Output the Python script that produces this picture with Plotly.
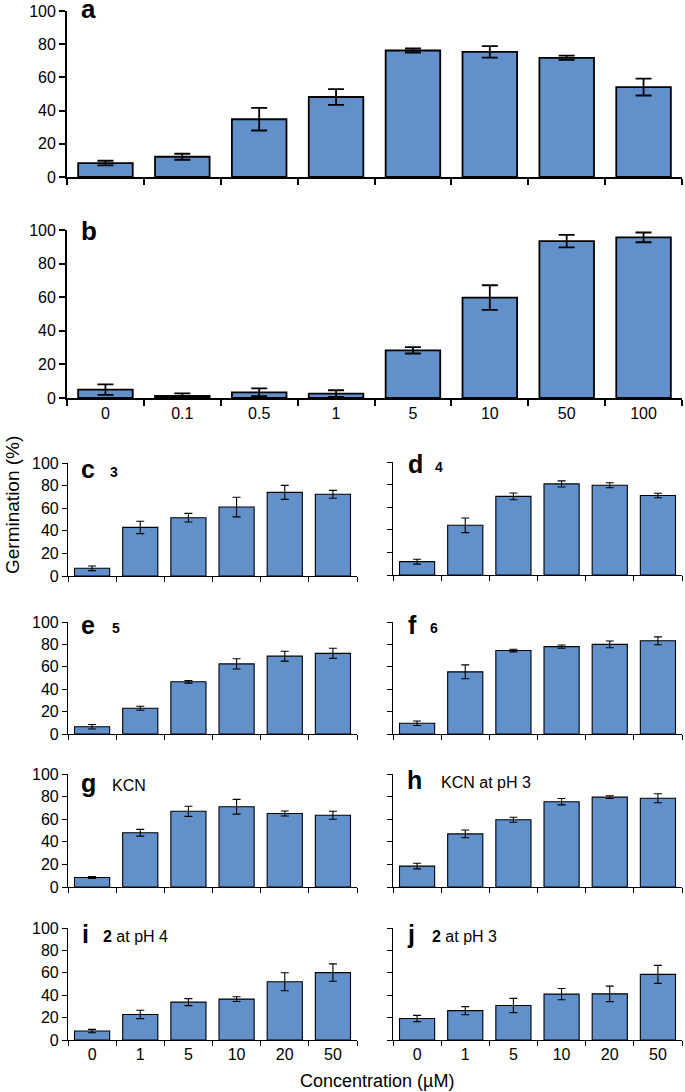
import plotly.graph_objects as go

# concentraciones (uM)
conc_ab = ['0', '0.1', '0.5', '1', '5', '10', '50', '100']
conc = ['0', '1', '5', '10', '20', '50']

# germinacion (%) y error
a_val = [8.4, 12.2, 34.8, 48.2, 76.2, 75.4, 71.8, 54.2]
a_err = [1.4, 1.8, 6.8, 4.7, 1.2, 3.5, 1.3, 5.1]
b_val = [5.0, 1.2, 3.4, 2.6, 28.4, 59.8, 93.4, 95.6]
b_err = [3.1, 1.5, 2.3, 2.0, 1.9, 7.3, 3.7, 2.9]
c_val = [6.8, 43.0, 51.6, 61.0, 74.0, 72.3]
c_err = [2.0, 5.5, 3.8, 8.7, 6.2, 3.5]
d_val = [11.8, 44.0, 69.6, 80.6, 79.4, 70.4]
d_err = [2.2, 6.5, 3.0, 2.7, 2.2, 2.0]
e_val = [6.5, 23.0, 46.6, 62.6, 69.5, 72.0]
e_err = [2.0, 1.8, 1.2, 4.6, 4.4, 4.5]
f_val = [9.6, 55.5, 74.5, 78.0, 80.0, 83.2]
f_err = [2.0, 6.2, 1.2, 1.5, 3.0, 3.5]
g_val = [8.4, 48.0, 67.0, 71.0, 65.0, 63.5]
g_err = [0.8, 3.0, 4.5, 6.5, 2.2, 3.5]
h_val = [18.5, 47.0, 59.5, 75.5, 79.5, 78.5]
h_err = [2.5, 3.4, 2.2, 2.8, 1.2, 4.0]
i_val = [8.0, 22.8, 33.8, 36.5, 52.0, 60.2]
i_err = [1.5, 3.7, 3.1, 2.1, 8.0, 7.8]
j_val = [19.2, 26.2, 30.8, 41.0, 41.2, 58.6]
j_err = [2.8, 3.6, 6.4, 5.0, 6.9, 8.0]

W, H = 685, 1092
BLUE = '#6190CB'
FONT = 'Liberation Sans, Arial, sans-serif'


def fx(p):
    return p / W


def fy(p):
    return 1 - p / H


# (letra, cats, valores, errores, x px, y px, grande, etiquetas y, etiquetas x, texto, x letra, linea base)
paneles = [
    ('a', conc_ab, a_val, a_err, (67, 682), (11, 177), True, True, False, '', 82, 18),
    ('b', conc_ab, b_val, b_err, (67, 682), (230, 398), True, True, True, '', 82, 240),
    ('c', conc, c_val, c_err, (68, 357), (463, 576), False, True, False, '<b>3</b>', 82, 477),
    ('d', conc, d_val, d_err, (393, 682), (462, 575), False, False, False, '<b>4</b>', 409, 472),
    ('e', conc, e_val, e_err, (68, 357), (622, 734), False, True, False, '<b>5</b>', 82, 633),
    ('f', conc, f_val, f_err, (393, 682), (622, 734), False, False, False, '<b>6</b>', 409, 633),
    ('g', conc, g_val, g_err, (68, 357), (774, 887), False, True, False, 'KCN', 82, 791),
    ('h', conc, h_val, h_err, (393, 682), (774, 887), False, False, False, 'KCN at pH 3', 408, 788),
    ('i', conc, i_val, i_err, (68, 357), (928, 1040), False, True, True, '<b>2</b> at pH 4', 83, 942),
    ('j', conc, j_val, j_err, (393, 682), (928, 1040), False, False, True, '<b>2</b> at pH 3', 408, 942),
]
cap_x = {'c': 110, 'd': 435, 'e': 112, 'f': 430, 'g': 112, 'h': 441, 'i': 103, 'j': 432}

fig = go.Figure()
anots = []
layout = {}
for k, (letra, cats, vals, errs, xp, yp, grande, ylab, xlab, texto, lx, base) in enumerate(paneles):
    n = '' if k == 0 else str(k + 1)
    lw = 1.8 if grande else 1.1
    fig.add_trace(go.Bar(
        x=cats, y=vals, xaxis='x' + n, yaxis='y' + n,
        marker=dict(color=BLUE, line=dict(color='black', width=lw)),
        error_y=dict(type='data', array=errs, color='black',
                     thickness=1.8 if grande else 1.1, width=8 if grande else 4),
        width=0.71 if grande else 0.73, showlegend=False,
    ))
    layout['xaxis' + n] = dict(
        domain=[fx(xp[0]), fx(xp[1])], anchor='y' + n, type='category',
        range=[-0.5, len(cats) - 0.5], tickson='boundaries', ticks='outside',
        ticklen=6 if grande else 5, tickwidth=lw, tickcolor='black',
        showline=True, linecolor='black', linewidth=lw, showgrid=False,
        showticklabels=xlab, tickfont=dict(family=FONT, size=16, color='black'),
        automargin=False,
    )
    layout['yaxis' + n] = dict(
        domain=[fy(yp[1]), fy(yp[0])], anchor='x' + n, range=[0, 100],
        tickvals=[0, 20, 40, 60, 80, 100], ticks='outside',
        ticklen=6 if grande else 5, tickwidth=lw, tickcolor='black',
        showline=True, linecolor='black', linewidth=lw, showgrid=False,
        zeroline=False, showticklabels=ylab, automargin=False,
        tickfont=dict(family=FONT, size=16, color='black'),
    )
    size = 26 if grande else 25
    anots.append(dict(
        text='<b>' + letra + '</b>', xref='paper', yref='paper',
        x=fx(lx - 2), y=fy(base - 0.34 * size), xanchor='left', yanchor='middle',
        showarrow=False, borderpad=0, font=dict(family=FONT, size=size, color='black'),
    ))
    if texto:
        csize = 14 if texto.startswith('<b>') and len(texto) < 10 else 16
        anots.append(dict(
            text=texto, xref='paper', yref='paper',
            x=fx(cap_x[letra] - 2), y=fy(base - 0.34 * csize), xanchor='left', yanchor='middle',
            showarrow=False, font=dict(family=FONT, size=csize, color='black'),
        ))

anots.append(dict(
    text='Germination (%)', xref='paper', yref='paper', x=fx(12), y=fy(505),
    xanchor='center', yanchor='middle', textangle=-90, showarrow=False,
    font=dict(family=FONT, size=19, color='black'),
))
anots.append(dict(
    text='Concentration (µM)', xref='paper', yref='paper', x=fx(377), y=fy(1081),
    xanchor='center', yanchor='middle', showarrow=False,
    font=dict(family=FONT, size=18, color='black'),
))

fig.update_layout(
    width=W, height=H, margin=dict(l=0, r=0, t=0, b=0),
    paper_bgcolor='white', plot_bgcolor='white',
    annotations=anots, bargap=0.28, **layout,
)
# quitar el margen del body para que la figura empiece en (0, 0)
fig.write_html("out.html", config={'displayModeBar': False},
               post_script="document.body.style.margin='0px';")
